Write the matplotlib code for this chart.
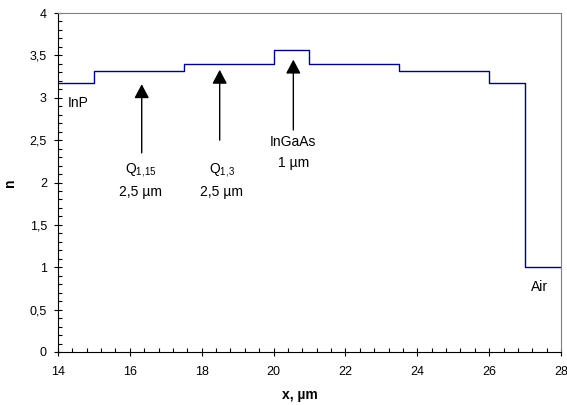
import numpy as np
import matplotlib.pyplot as plt
from matplotlib.ticker import MultipleLocator, FuncFormatter

plt.rcParams["font.family"] = ["Liberation Sans", "DejaVu Sans"]
plt.rcParams["mathtext.default"] = "regular"

# layer boundaries (x, µm) and refractive index of each layer
edges = [14, 15, 17.5, 20, 21, 23.5, 26, 27, 28]
n_vals = [3.17, 3.32, 3.40, 3.56, 3.40, 3.32, 3.17, 1.0]

# arrow annotations: (x, tail y, tip y)
arrows = [(16.33, 2.35, 3.16), (18.5, 2.50, 3.33), (20.55, 2.62, 3.45)]


def comma(v, pos):
    s = f"{v:g}"
    return s.replace(".", ",")


fig = plt.figure(figsize=(5.67, 4.05), dpi=100)
ax = fig.add_axes([58 / 567, 1 - 352 / 405, 503 / 567, 339 / 405])

xs = np.repeat(edges, 2)[1:-1]
ys = np.repeat(n_vals, 2)
ax.plot(xs, ys, color="#000080", lw=1.0)

for x, y0, y1 in arrows:
    ax.annotate("", xy=(x, y1), xytext=(x, y0),
                arrowprops=dict(arrowstyle="-|>,head_length=0.85,head_width=0.45",
                                color="black", lw=1.0, shrinkA=0, shrinkB=0))

fs = 10
ax.text(14.28, 2.94, "InP", fontsize=fs, va="center", ha="left")
ax.text(16.3, 2.15, r"Q$_{1{,}15}$", fontsize=fs, ha="center", va="center")
ax.text(16.3, 1.89, "2,5 µm", fontsize=fs, ha="center", va="center")
ax.text(18.55, 2.15, r"Q$_{1{,}3}$", fontsize=fs, ha="center", va="center")
ax.text(18.55, 1.89, "2,5 µm", fontsize=fs, ha="center", va="center")
ax.text(20.55, 2.48, "InGaAs", fontsize=fs, ha="center", va="center")
ax.text(20.55, 2.23, "1 µm", fontsize=fs, ha="center", va="center")
ax.text(27.4, 0.77, "Air", fontsize=fs, ha="center", va="center")

ax.set_xlim(14, 28)
ax.set_ylim(0, 4)
ax.xaxis.set_major_locator(MultipleLocator(2))
ax.xaxis.set_minor_locator(MultipleLocator(0.4))
ax.yaxis.set_major_locator(MultipleLocator(0.5))
ax.yaxis.set_minor_locator(MultipleLocator(0.1))
ax.yaxis.set_major_formatter(FuncFormatter(comma))
ax.tick_params(which="major", direction="inout", length=6, width=0.8, labelsize=9)
ax.tick_params(axis="x", which="major", pad=7)
ax.tick_params(axis="y", which="major", pad=5)
ax.tick_params(which="minor", direction="in", length=3, width=0.8)

for side in ["top", "right"]:
    ax.spines[side].set_color("#808080")
for side in ["left", "bottom"]:
    ax.spines[side].set_color("black")

ax.set_xlabel("x, µm", fontsize=10, fontweight="bold")
ax.set_ylabel("n", fontsize=10, fontweight="bold")
ax.xaxis.set_label_coords(0.481, -0.106)
ax.yaxis.set_label_coords(-0.0815, 0.50)

fig.savefig("out.png", dpi=100)
